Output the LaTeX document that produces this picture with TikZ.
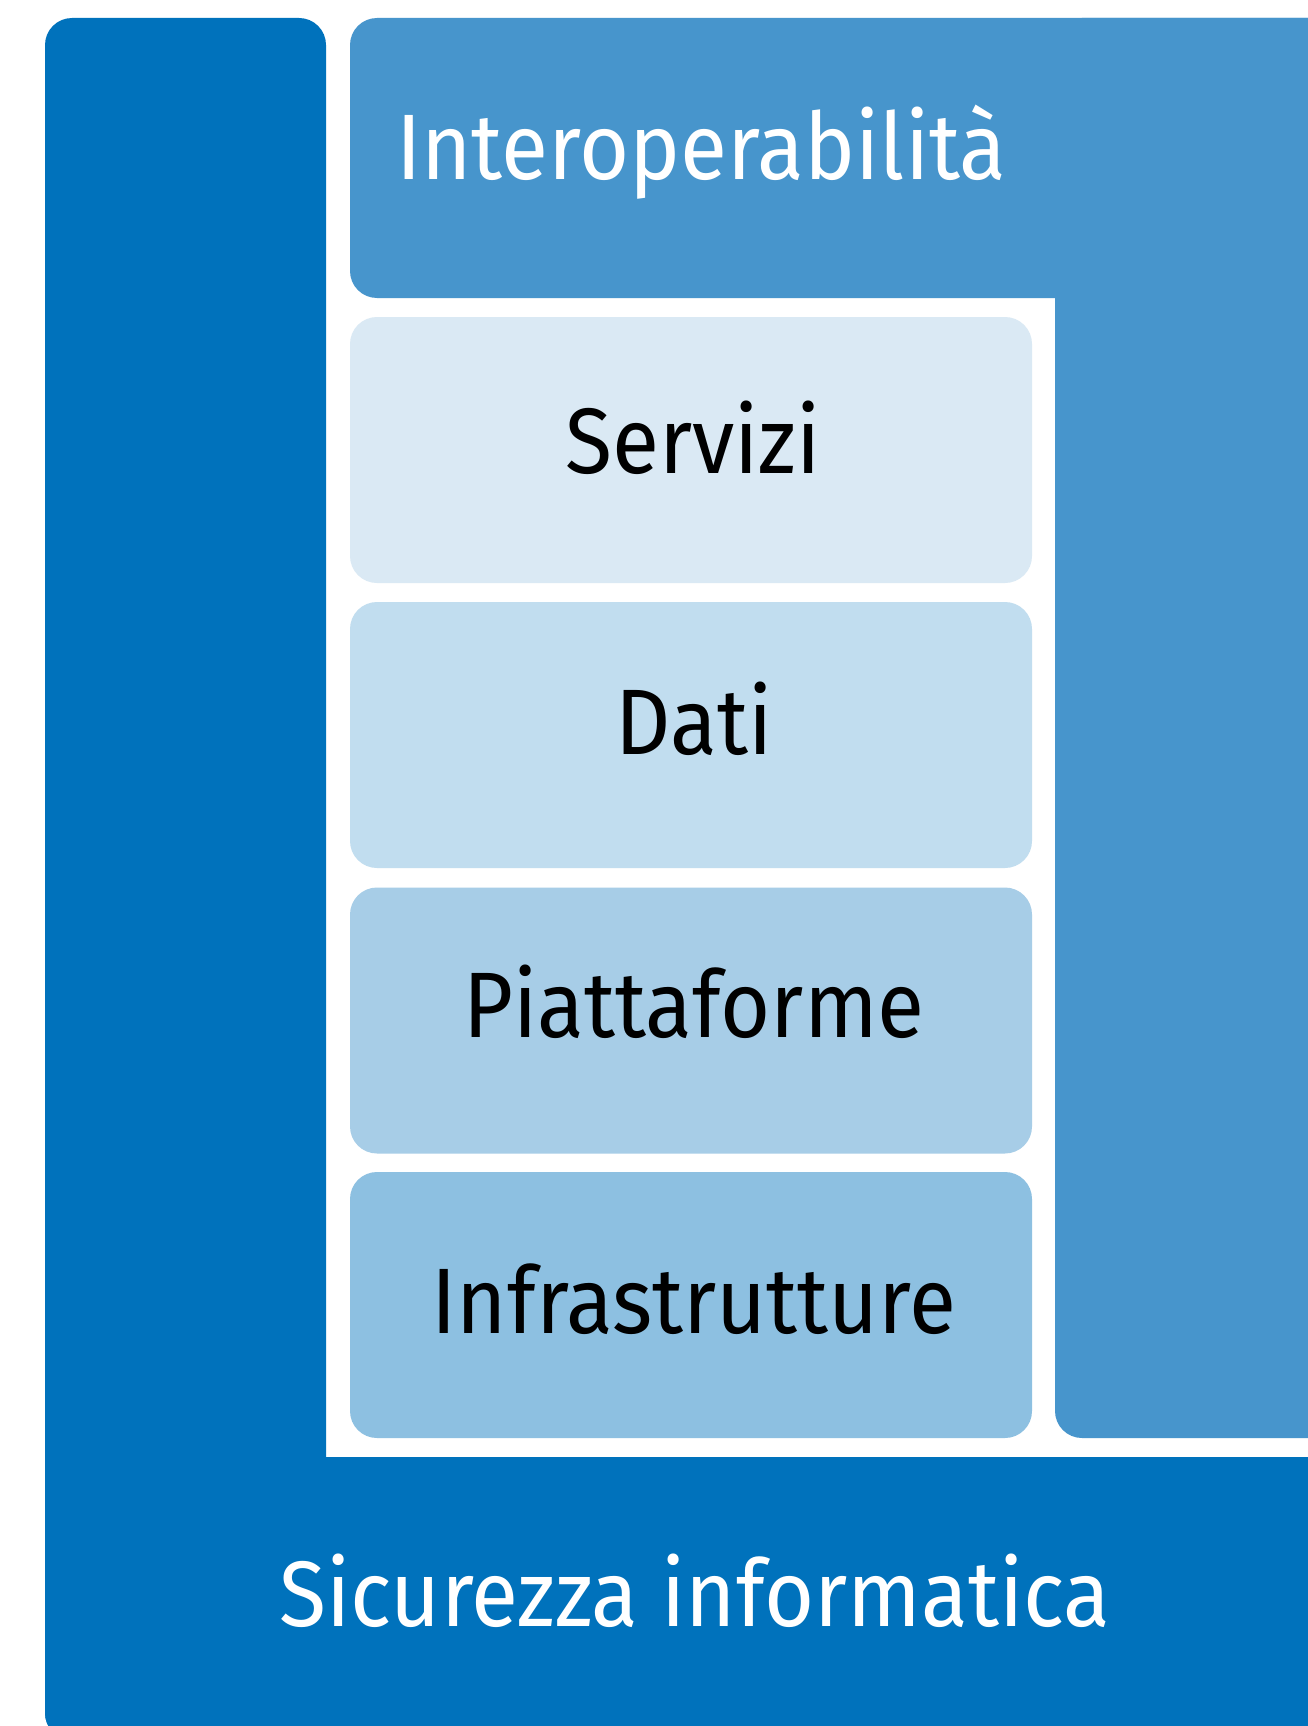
\documentclass[tikz,border=0pt]{standalone}
\usepackage{fontspec}
\setmainfont{Fira Sans}[FakeStretch=0.925]
\definecolor{securblue}{HTML}{0072BC}
\definecolor{interblue}{HTML}{4795CC}
\definecolor{layerA}{HTML}{DAE9F4}
\definecolor{layerB}{HTML}{C1DDEF}
\definecolor{layerC}{HTML}{A7CDE7}
\definecolor{layerD}{HTML}{8DC0E1}
\tikzset{
  panel/.style={rounded corners=27pt, inner sep=0pt, outer sep=0pt, anchor=north west},
  layerbox/.style={panel, minimum width=682pt, minimum height=266pt},
  bigtext/.style={font=\fontsize{93}{110}\selectfont, inner sep=0pt, anchor=base},
}
\begin{document}
\begin{tikzpicture}[x=1pt, y=-1pt]
  \useasboundingbox (0,0) rectangle (1307,1726);
  \fill[white] (0,0) rectangle (1307,1726);

  % security frame: left column plus bottom band
  \node[panel, fill=securblue, minimum width=281pt, minimum height=1722pt] (seccol) at (45,18) {};
  \node[panel, fill=securblue, minimum width=1300pt, minimum height=283pt] (secband) at (45,1457) {};

  % interoperability frame: top band plus right column
  \node[panel, fill=interblue, minimum width=990pt, minimum height=280pt] (intband) at (350,18) {};
  \node[panel, fill=interblue, minimum width=285pt, minimum height=1420pt] (intcol) at (1055,18) {};

  % stacked layers
  \node[layerbox, fill=layerA] (servizi) at (350,317) {};
  \node[layerbox, fill=layerB] (dati) at (350,602) {};
  \node[layerbox, fill=layerC] (piatt) at (350,887.5) {};
  \node[layerbox, fill=layerD] (infra) at (350,1172) {};

  % labels
  \node[bigtext, anchor=base west, text=white] (tinter) at (396,179) {Interoperabilità};
  \node[bigtext] (tserv) at (693,473) {Servizi};
  \node[bigtext] (tdati) at (694,754) {Dati};
  \node[bigtext] (tpiatt) at (694,1037) {Piattaforme};
  \node[bigtext] (tinfra) at (694,1333) {Infrastrutture};
  \node[bigtext, text=white] (tsec) at (695,1626) {Sicurezza informatica};
\end{tikzpicture}
\end{document}
